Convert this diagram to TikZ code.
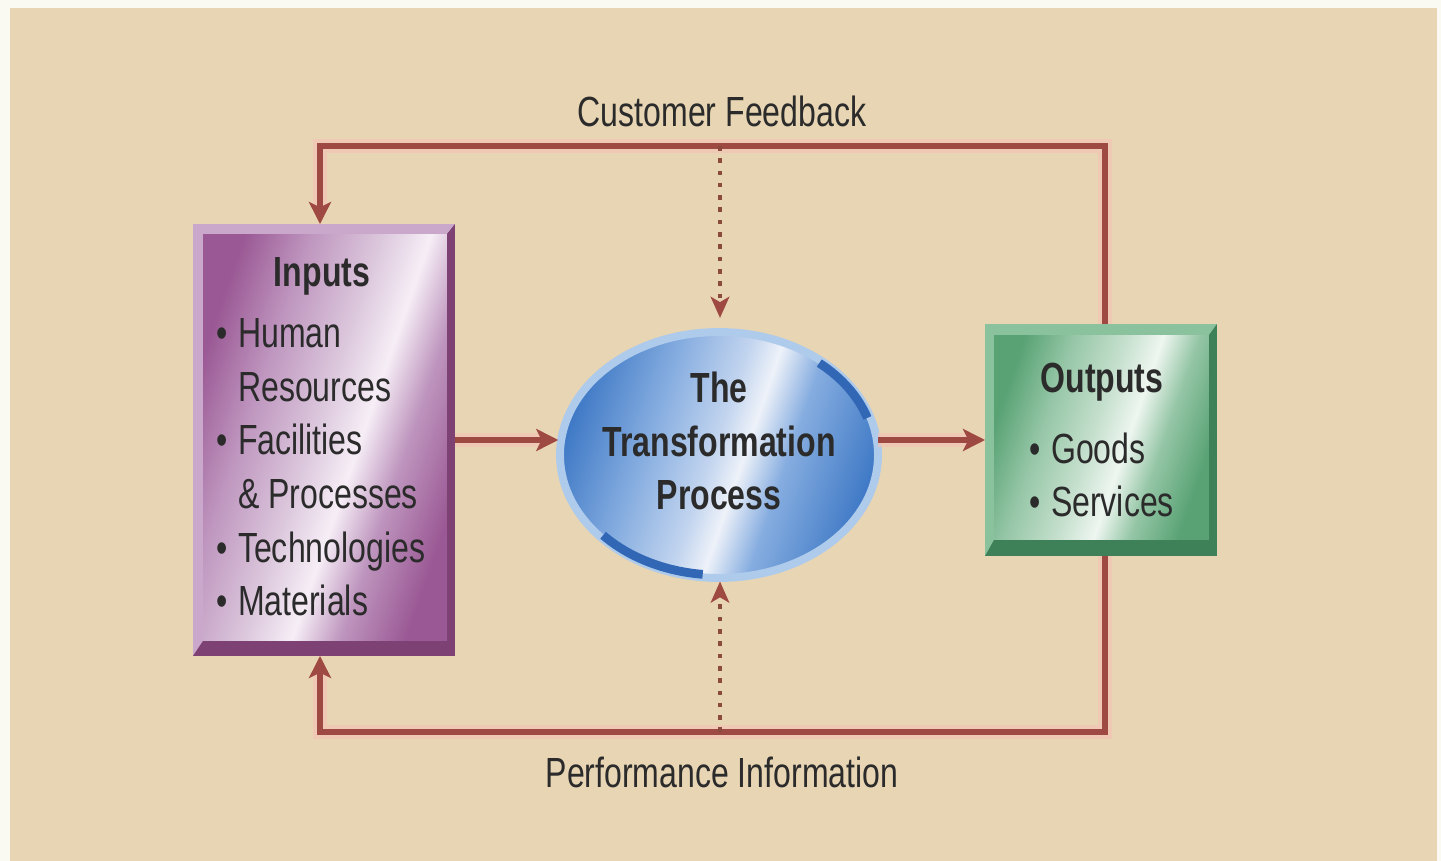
\documentclass[tikz,border=0pt]{standalone}
\usepackage{fontspec}
\newfontfamily\condsf[FakeStretch=0.76]{Liberation Sans}
\usetikzlibrary{arrows.meta,calc,shapes.geometric}

\definecolor{paper}{HTML}{FAF9F2}
\definecolor{panel}{HTML}{E8D5B3}
\definecolor{linered}{HTML}{9E4A42}
\definecolor{dotbrown}{HTML}{8A4B3C}
\definecolor{glow}{HTML}{F3C4B4}
\definecolor{inkgray}{HTML}{2B2B2B}
% inputs box
\definecolor{inpdark}{HTML}{9A5894}
\definecolor{inpmid}{HTML}{BE95BE}
\definecolor{inplite}{HTML}{DCC8DD}
\definecolor{inphi}{HTML}{F6EEF6}
\definecolor{inptop}{HTML}{C9A8CB}
\definecolor{inpbot}{HTML}{7E4174}
% process ellipse
\definecolor{procdark}{HTML}{407AC6}
\definecolor{procmid}{HTML}{86ADE0}
\definecolor{proclite}{HTML}{C3D5EF}
\definecolor{prochi}{HTML}{EEF2F9}
\definecolor{procring}{HTML}{AFCBEC}
\definecolor{procarc}{HTML}{3167B5}
% outputs box
\definecolor{outdark}{HTML}{58A274}
\definecolor{outmid}{HTML}{95C6A6}
\definecolor{outlite}{HTML}{C6E0CE}
\definecolor{outhi}{HTML}{EEF6F0}
\definecolor{outtop}{HTML}{8AC29E}
\definecolor{outbot}{HTML}{3E8057}

\pgfdeclarehorizontalshading{inputshade}{100bp}{color(0bp)=(inpdark); color(25bp)=(inpdark);
  color(36bp)=(inpmid); color(48bp)=(inplite); color(56bp)=(inphi); color(64bp)=(inpmid);
  color(75bp)=(inpdark); color(100bp)=(inpdark)}
\pgfdeclarehorizontalshading{procshade}{100bp}{color(0bp)=(procdark); color(25bp)=(procdark);
  color(38bp)=(procmid); color(49bp)=(proclite); color(54bp)=(prochi); color(61bp)=(procmid);
  color(75bp)=(procdark); color(100bp)=(procdark)}
\pgfdeclarehorizontalshading{outputshade}{100bp}{color(0bp)=(outdark); color(25bp)=(outdark);
  color(36bp)=(outmid); color(48bp)=(outlite); color(56bp)=(outhi); color(64bp)=(outmid);
  color(75bp)=(outdark); color(100bp)=(outdark)}

\tikzset{
  flow/.style={draw=linered, line width=3.6pt, line join=miter,
    preaction={draw=glow, line width=7.5pt, opacity=0.7},
    -{Stealth[length=12.5pt, width=12.5pt, inset=3pt]}},
  infoflow/.style={draw=dotbrown, line width=2.6pt, dash pattern=on 2.6pt off 4.4pt,
    -{Stealth[length=12pt, width=10.5pt, inset=3pt, linered]}},
  labeltxt/.style={font=\condsf\fontsize{24}{29}\selectfont, text=inkgray, inner sep=0pt, anchor=base},
  titletxt/.style={font=\condsf\bfseries\fontsize{24}{30.3}\selectfont, text=inkgray, inner sep=0pt},
  itemtxt/.style={font=\condsf\fontsize{24}{29}\selectfont, text=inkgray, inner sep=0pt, anchor=base west},
  boxnode/.style={rectangle, inner sep=0pt, outer sep=0pt}
}

\begin{document}
\begin{tikzpicture}[x=0.02cm, y=-0.02cm]
  \useasboundingbox (0,0) rectangle (1441,861);
  \fill[paper] (0,0) rectangle (1441,861);
  \fill[panel] (10,8) rectangle (1437,861);

  % the three blocks
  \node[boxnode, fill=inptop, minimum width=5.24cm, minimum height=8.64cm] (inputs) at (324,440) {};
  \node[ellipse, inner sep=0pt, outer sep=0pt, minimum width=6.36cm, minimum height=4.92cm,
    draw=procring, line width=4.5pt, shade, shading=procshade, shading angle=-19] (process) at (719,455) {};
  \node[boxnode, fill=outtop, minimum width=4.64cm, minimum height=4.64cm] (outputs) at (1101,440) {};

  % bevels and faces
  \fill[inpbot] (inputs.south west) -- (inputs.south east) -- (inputs.north east)
    -- ([shift={(-8,10)}]inputs.north east) -- ([shift={(-8,-15)}]inputs.south east)
    -- ([shift={(10,-15)}]inputs.south west) -- cycle;
  \shade[shading=inputshade, shading angle=-19] ([shift={(10,10)}]inputs.north west)
    rectangle ([shift={(-8,-15)}]inputs.south east);
  \fill[outbot] (outputs.south west) -- (outputs.south east) -- (outputs.north east)
    -- ([shift={(-8,11)}]outputs.north east) -- ([shift={(-8,-16)}]outputs.south east)
    -- ([shift={(9,-16)}]outputs.south west) -- cycle;
  \shade[shading=outputshade, shading angle=-19] ([shift={(9,11)}]outputs.north west)
    rectangle ([shift={(-8,-16)}]outputs.south east);
  \draw[procarc, line width=5pt] ([shift={(-18:156 and 120)}]process.center)
    arc[start angle=-18, end angle=-50, x radius=156, y radius=120];
  \draw[procarc, line width=5pt] ([shift={(138:156 and 120)}]process.center)
    arc[start angle=138, end angle=96, x radius=156, y radius=120];

  % texts
  \node[titletxt, anchor=base] (inputstitle) at (322,287) {Inputs};
  \foreach \bul/\txt [count=\i from 0] in {1/Human, 0/Resources, 1/Facilities,
      0/\& Processes, 1/Technologies, 1/Materials}
    \node[itemtxt] (inputitem\i) at (216,{348+53.5*\i})
      {\ifnum\bul=1 \textbullet\hspace{6pt}\else\phantom{\textbullet\hspace{6pt}}\fi\txt};
  \node[titletxt, align=center] (processtext) at (719,441) {The\\Transformation\\Process};
  \node[titletxt, anchor=base] (outputstitle) at (1102,393) {Outputs};
  \node[itemtxt] (outputitem0) at (1029,464) {\textbullet\hspace{6pt}Goods};
  \node[itemtxt] (outputitem1) at (1029,517) {\textbullet\hspace{6pt}Services};
  \node[labeltxt] (feedbacklabel) at (722,127) {Customer Feedback};
  \node[labeltxt] (perflabel) at (722,787) {Performance Information};

  % loop corners
  \coordinate (fbR) at (1105,146);
  \coordinate (fbL) at (320,146);
  \coordinate (fbM) at (720,146);
  \coordinate (piR) at (1105,732);
  \coordinate (piL) at (320,732);
  \coordinate (piM) at (720,732);

  % connectors
  \draw[flow] (outputs.north -| fbR) -- (fbR) -- (fbL) -- (fbL |- inputs.north);
  \draw[flow] (outputs.south -| piR) -- (piR) -- (piL) -- (piL |- inputs.south);
  \draw[infoflow, shorten >=8pt] (fbM) -- (fbM |- process.north);
  \draw[infoflow, shorten >=2pt] (piM) -- (piM |- process.south);
  \draw[flow, shorten >=1pt] (inputs.east) -- (inputs.east -| process.west);
  \draw[flow] (process.east |- outputs.west) -- (outputs.west);
\end{tikzpicture}
\end{document}
